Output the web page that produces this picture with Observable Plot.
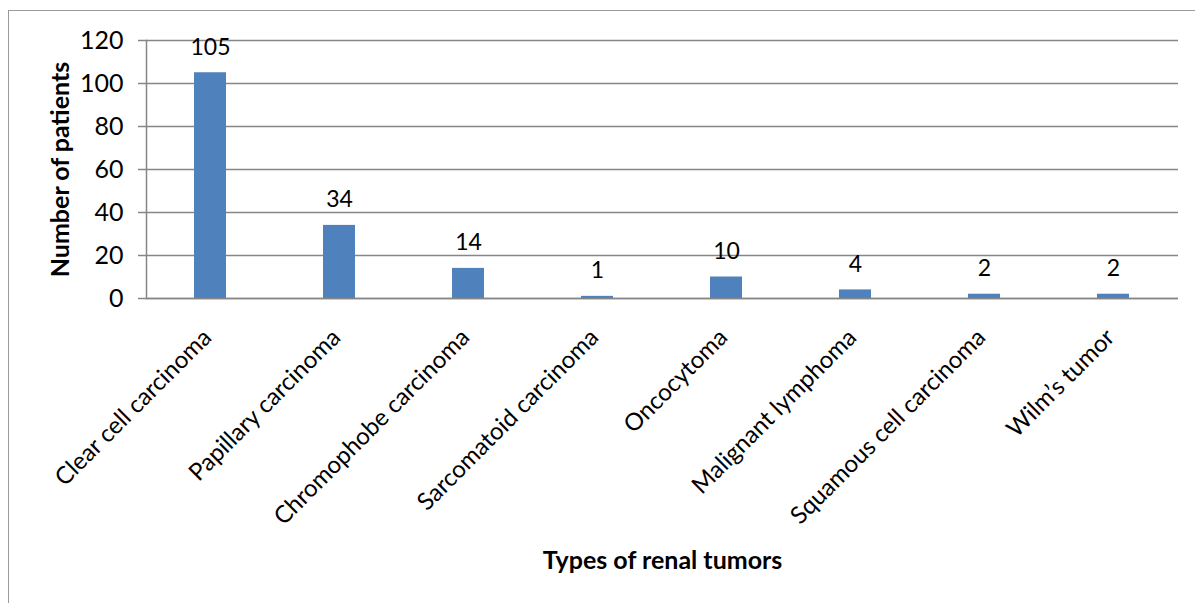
<!DOCTYPE html>
<html>
<head>
<meta charset="utf-8">
<script src="https://cdn.jsdelivr.net/npm/d3@7"></script>
<script src="https://cdn.jsdelivr.net/npm/@observablehq/plot@0.6"></script>
<style>
  html, body { margin: 0; padding: 0; background: #fff; overflow: hidden; }
  #wrap { position: relative; width: 1195px; height: 603px; }
  #border { position: absolute; left: 8px; top: 10px; width: 1400px; height: 800px; border: 1.5px solid #9a9a9a; pointer-events: none; }
  #chart { position: absolute; left: 0; top: 0; }
</style>
</head>
<body>
<div id="wrap"><div id="border"></div><div id="chart"></div></div>
<script>
const categories = ["Clear cell carcinoma", "Papillary carcinoma", "Chromophobe carcinoma", "Sarcomatoid carcinoma", "Oncocytoma", "Malignant lymphoma", "Squamous cell carcinoma", "Wilm\u2019s tumor"];
const patients = [105, 34, 14, 1, 10, 4, 2, 2];
const yTicks = [0, 20, 40, 60, 80, 100, 120];

const data = categories.map((c, i) => ({type: c, n: patients[i]}));
const FONT = "Lato, 'Open Sans', sans-serif";

const chart = Plot.plot({
  width: 1195,
  height: 603,
  marginLeft: 146,
  marginRight: 17,
  marginTop: 40,
  marginBottom: 305,
  style: {fontFamily: FONT, fontSize: "24px", color: "#000", background: "transparent"},
  x: {domain: categories, paddingInner: 0.75, paddingOuter: 0.375, align: 0.5, axis: null},
  y: {domain: [0, 120], axis: null},
  marks: [
    Plot.gridY(yTicks, {stroke: "#868686", strokeOpacity: 1, strokeWidth: 1.5}),
    Plot.axisY({ticks: yTicks, tickSize: 8, tickPadding: 15, stroke: "#868686", strokeWidth: 1.5, fontSize: 25, fill: "#000", label: null, tickFormat: d => d}),
    Plot.frame({anchor: "left", stroke: "#868686", strokeWidth: 1.5}),
    Plot.barY(data, {x: "type", y: "n", fill: "#4F81BD"}),
    Plot.ruleY([0], {stroke: "#868686", strokeWidth: 1.5}),
    Plot.text(data, {x: "type", y: "n", text: d => String(d.n), dy: -18, lineAnchor: "bottom", fontSize: 23, fill: "#000"}),
    Plot.text(data, {x: "type", text: "type", frameAnchor: "bottom", dx: -3, dy: 35, rotate: -45, textAnchor: "end", lineAnchor: "middle", fontSize: 24, fill: "#000"}),
    Plot.text(["Types of renal tumors"], {frameAnchor: "bottom", dy: 270, text: d => d, fontSize: 25, fontWeight: "bold", lineAnchor: "bottom", fill: "#000"}),
    Plot.text(["Number of patients"], {frameAnchor: "left", dx: -86, text: d => d, rotate: -90, textAnchor: "middle", fontSize: 25, fontWeight: "bold", fill: "#000"})
  ]
});
document.getElementById("chart").appendChild(chart);
</script>
</body>
</html>
